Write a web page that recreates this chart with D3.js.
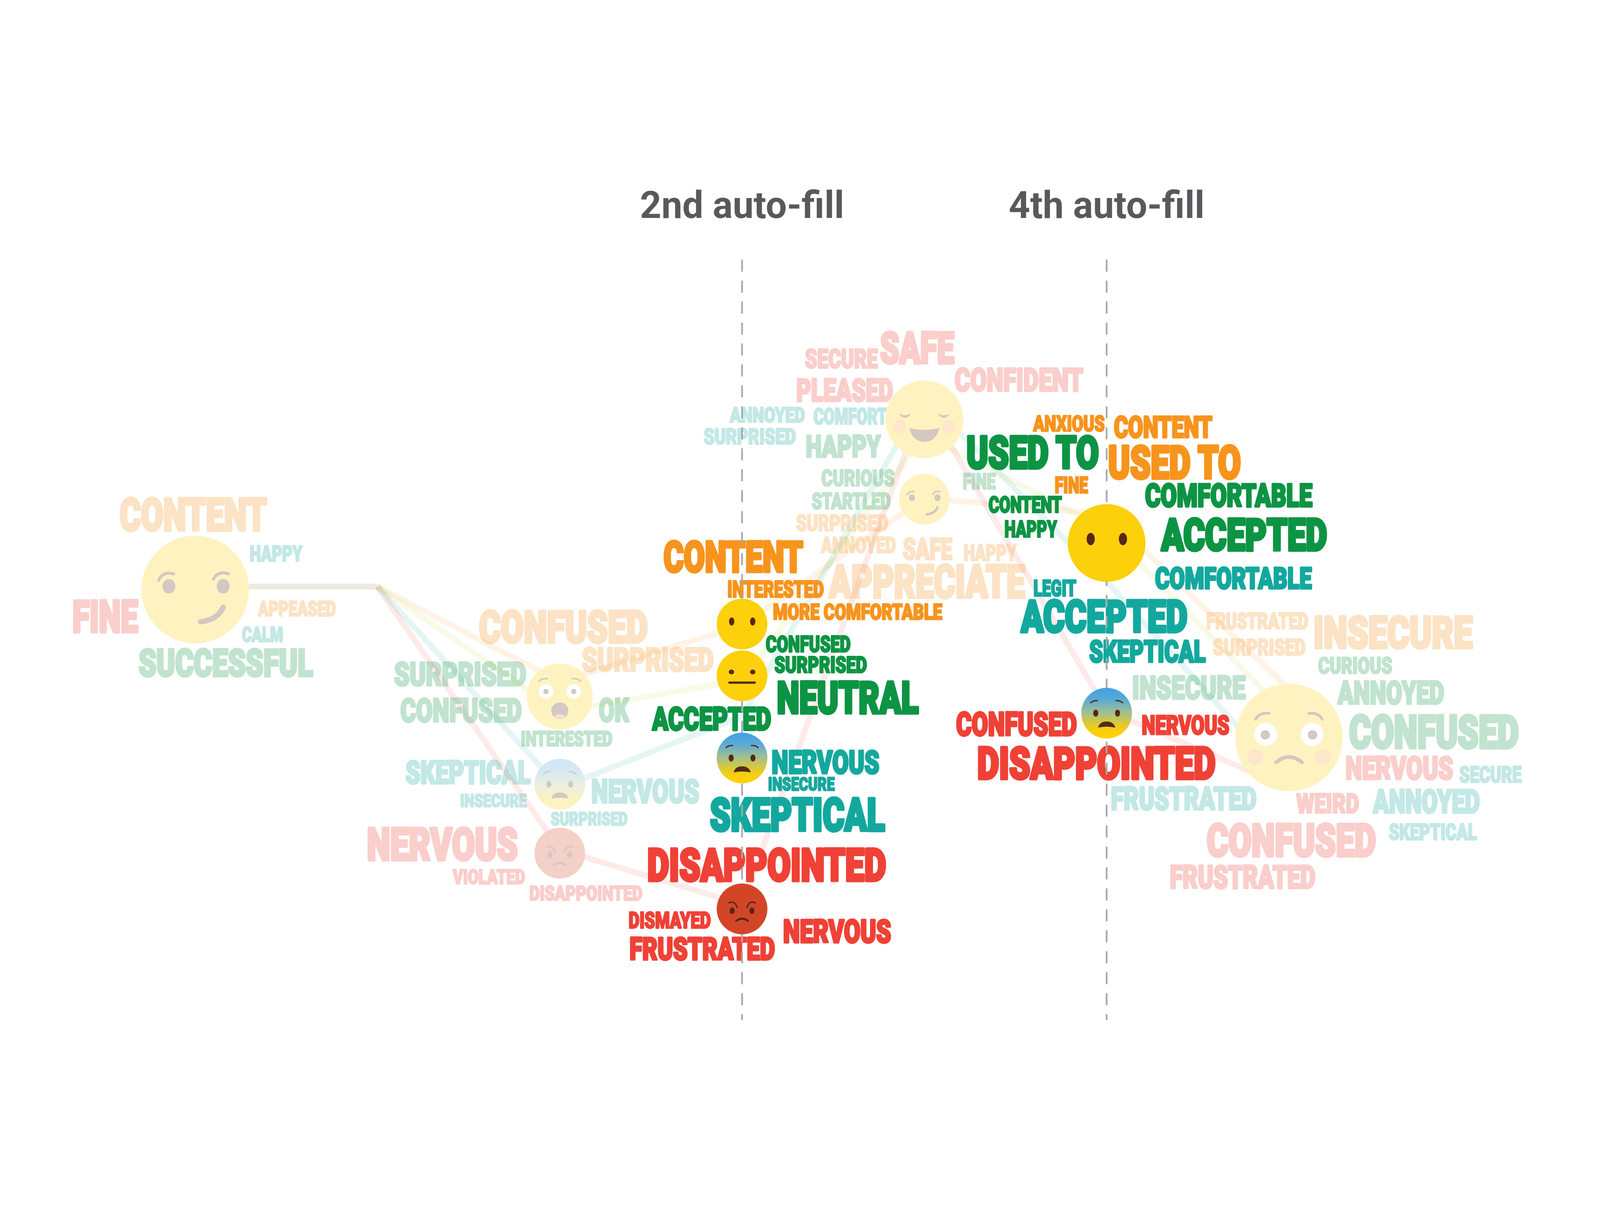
<!DOCTYPE html>
<html><head><meta charset="utf-8">
<script src="https://cdn.jsdelivr.net/npm/d3@7"></script>
<style>html,body{margin:0;padding:0;background:#fff;width:100%;height:100%;overflow:hidden;}svg{display:block;width:100vw;height:100vh;}</style>
</head><body>
<script>
// ---------------- DATA ----------------
const W = 5565, H = 3126;
const stageIndex = [0, 1, 2, 3, 4, 5, 6];
const highlightedStages = [3, 5];
const stageTitles = [{stage: 3, label: "2nd auto-fill"}, {stage: 5, label: "4th auto-fill"}];

// emotion nodes: stage, vertical position, count (face size), face type
const nodeIds    = ["n0","n1a","n1b","n1c","n2a","n2b","n2c","n2d","n3a","n3b","n4a","n4b","n5"];
const nodeStage  = [0, 2, 2, 2, 3, 3, 3, 3, 4, 4, 5, 5, 6];
const nodeY      = [1490, 1862, 2167, 2407, 1610, 1790, 2076, 2601, 898, 1176, 1328, 1920, 2005];
const nodeCount  = [9, 3.4, 2, 2, 2, 2, 2, 2, 4.7, 2, 4.7, 2, 9];
const nodeFace   = ["smirk","astonished","fearful","angry","nomouth","neutral","fearful","angry","relieved","smirk","nomouth","fearful","worried"];

// storylines: [stage, y]
const lineOrange = [[0,1480],[1,1480],[2,1810],[3,1615],[4,1172],[5,1228],[6,1836]];
const lineLime   = [[0,1480],[1,1480],[2,1915],[3,1805],[4,955],[5,1280],[6,1932]];
const lineTeal   = [[0,1480],[1,1480],[2,2180],[3,1931],[4,820],[5,1462],[6,2164]];
const lineRed    = [[0,1480],[1,1480],[2,2395],[3,2585],[4,832],[5,1910],[6,2180]];

// words: [node, text, colour group, size]
const words = [
 ["n0","CONTENT","O",121],["n0","HAPPY","T",59],["n0","FINE","R",119],["n0","APPEASED","O",56],["n0","CALM","T",56],["n0","SUCCESSFUL","G",102],
 ["n1a","CONFUSED","O",119],["n1a","SURPRISED","O",88],["n1a","SURPRISED","G",88],["n1a","CONFUSED","G",88],["n1a","OK","G",88],["n1a","INTERESTED","G",56],
 ["n1b","SKEPTICAL","T",87],["n1b","INSECURE","T",49],["n1b","NERVOUS","T",88],["n1b","SURPRISED","T",50],
 ["n1c","NERVOUS","R",121],["n1c","VIOLATED","R",55],["n1c","DISAPPOINTED","R",55],
 ["n2a","CONTENT","O",115],["n2a","INTERESTED","O",63],["n2a","MORE COMFORTABLE","O",58],
 ["n2b","CONFUSED","G",61],["n2b","SURPRISED","G",60],["n2b","NEUTRAL","G",119],["n2b","ACCEPTED","G",87],
 ["n2c","NERVOUS","T",87],["n2c","INSECURE","T",50],["n2c","SKEPTICAL","T",123],
 ["n2d","DISAPPOINTED","R",122],["n2d","DISMAYED","R",60],["n2d","FRUSTRATED","R",85],["n2d","NERVOUS","R",87],
 ["n3a","SECURE","R",70],["n3a","SAFE","R",118],["n3a","CONFIDENT","R",86],["n3a","PLEASED","R",85],["n3a","ANNOYED","T",57],["n3a","COMFORT","T",61],["n3a","SURPRISED","T",59],["n3a","HAPPY","G",83],
 ["n3b","CURIOUS","G",60],["n3b","STARTLED","G",61],["n3b","FINE","G",59],["n3b","SURPRISED","O",60],["n3b","ANNOYED","O",58],["n3b","SAFE","O",80],["n3b","HAPPY","O",60],["n3b","APPRECIATE","O",123],
 ["n4a","ANXIOUS","O",58],["n4a","CONTENT","O",80],["n4a","USED TO","G",122],["n4a","USED TO","O",123],["n4a","FINE","O",60],["n4a","CONTENT","G",61],["n4a","HAPPY","G",63],["n4a","COMFORTABLE","G",87],["n4a","ACCEPTED","G",120],["n4a","COMFORTABLE","T",80],["n4a","LEGIT","T",60],["n4a","ACCEPTED","T",119],["n4a","SKEPTICAL","T",82],
 ["n4b","CONFUSED","R",88],["n4b","NERVOUS","R",71],["n4b","DISAPPOINTED","R",119],
 ["n5","FRUSTRATED","O",60],["n5","SURPRISED","O",60],["n5","INSECURE","O",120],["n5","CURIOUS","G",61],["n5","ANNOYED","G",86],["n5","INSECURE","G",86],["n5","CONFUSED","G",124],["n5","NERVOUS","R",86],["n5","SECURE","T",60],["n5","FRUSTRATED","T",87],["n5","WEIRD","R",72],["n5","ANNOYED","T",88],["n5","CONFUSED","R",121],["n5","SKEPTICAL","T",61],["n5","FRUSTRATED","R",86]
];
// word-cloud layout (offset of word box from its node centre, box width), same order as words
const wordLayout = [
 [-268,-322,522],[187,-155,188],[-432,34,238],[216,39,276],[160,128,148],[-201,204,615],
 [-286,-302,597],[73,-173,466],[-580,-122,467],[-558,4,430],[132,2,112],[-138,119,323],
 [-540,-86,442],[-349,33,236],[106,-20,383],[-34,96,272],
 [-676,-91,535],[-374,54,256],[-108,112,398],
 [-278,-291,495],[-54,-153,341],[105,-71,594],
 [80,-142,300],[110,-69,327],[116,16,503],[-316,106,421],
 [99,-30,382],[88,65,236],[-117,135,619],
 [-335,-215,841],[-397,9,291],[-395,95,513],[139,34,383],
 [-418,-246,259],[-159,-308,268],[102,-181,454],[-449,-145,344],[-679,-45,266],[-388,-42,261],[-770,30,326],[-416,52,268],
 [-361,-104,260],[-394,-25,280],[131,-92,119],[-449,52,326],[-362,131,266],[-78,133,178],[134,156,189],[-337,225,692],
 [-258,-444,254],[22,-444,349],[-493,-377,471],[0,-342,472],[-183,-232,121],[-413,-164,260],[-358,-81,188],[130,-210,589],[185,-89,587],[165,82,552],[-257,127,154],[-303,196,589],[-64,336,412],
 [-527,-6,427],[119,6,311],[-455,115,839],
 [-290,-435,360],[-267,-344,328],[80,-426,564],[99,-282,263],[166,-200,378],[-549,-217,402],[204,-82,601],[193,63,382],[590,98,222],[-623,167,514],[23,193,224],[289,177,379],[-291,297,599],[345,297,311],[-418,441,514]
];

// ---------------- STYLE ----------------
const wordColor = {O:"#f7941d", G:"#0c9444", T:"#13a89e", R:"#ef4136"};
const lineColor = {O:"#f7941d", L:"#bfd630", T:"#13a89e", R:"#ef4136"};
const bundleColor = "#8f9a5a";
const YEL = "#fcd00a", BRN = "#552816", ANG = "#d24627", BLUSH = "#f8a03a", TONGUE = "#ee6f84";
const FADE = 0.25;

// ---------------- SCALES ----------------
const x = d3.scaleLinear().domain([0, 6]).range([679, 4483]);
const y = d3.scaleLinear().domain([0, H]).range([0, H]);
const r = d3.scaleSqrt().domain([0, 9]).range([0, 187]);

const svg = d3.select("body").append("svg")
  .attr("viewBox", `0 0 ${W} ${H}`)
  .attr("preserveAspectRatio", "xMidYMid meet");
svg.append("rect").attr("width", W).attr("height", H).attr("fill", "#fff");

const defs = svg.append("defs");
const fg = defs.append("linearGradient").attr("id", "fearGrad").attr("x1", 0).attr("y1", 0).attr("x2", 0).attr("y2", 1);
[[0,"#42a1e4"],[0.22,"#58a9d8"],[0.48,"#9fc092"],[0.7,"#dcc838"],[0.86,"#fbcf0b"],[1,"#fdd006"]]
  .forEach(([o,c]) => fg.append("stop").attr("offset", o).attr("stop-color", c));

const nodes = nodeIds.map((id, i) => ({id, stage: nodeStage[i], y: nodeY[i], count: nodeCount[i], face: nodeFace[i]}));
const nodeById = new Map(nodes.map(n => [n.id, n]));

// ---------------- STORYLINES ----------------
const lineGen = d3.line().x(d => x(d[0])).y(d => y(d[1]));
const storylines = [["O", lineOrange], ["L", lineLime], ["T", lineTeal], ["R", lineRed]];
const lg = svg.append("g");
// shared first segment (all storylines start together)
lg.append("path")
  .attr("d", lineGen(lineOrange.slice(0, 2)))
  .attr("fill", "none").attr("stroke", bundleColor).attr("stroke-opacity", 0.19)
  .attr("stroke-width", 20);
lg.selectAll("path.story").data(storylines).join("path").attr("class", "story")
  .attr("d", d => lineGen(d[1].slice(1)))
  .attr("fill", "none")
  .attr("stroke", d => lineColor[d[0]])
  .attr("stroke-opacity", 0.11)
  .attr("stroke-width", 20)
  .attr("stroke-linejoin", "miter");

// ---------------- FACES ----------------
function drawFace(g, type) {
  const fill = type === "angry" ? ANG : type === "fearful" ? "url(#fearGrad)" : YEL;
  g.append("circle").attr("r", 1).attr("fill", fill);
  const st = (d, w) => g.append("path").attr("d", d).attr("fill", "none").attr("stroke", BRN)
      .attr("stroke-width", w).attr("stroke-linecap", "round").attr("stroke-linejoin", "round");
  const fp = (d, c) => g.append("path").attr("d", d).attr("fill", c || BRN);
  const el = (cx, cy, rx, ry, c) => g.append("ellipse").attr("cx", cx).attr("cy", cy).attr("rx", rx).attr("ry", ry).attr("fill", c || BRN);
  if (type === "smirk") {
    el(-0.49, -0.06, 0.12, 0.135); el(0.52, -0.06, 0.12, 0.135);
    st("M-0.68,-0.17Q-0.6,-0.35 -0.40,-0.29", 0.055);
    st("M0.34,-0.19Q0.42,-0.36 0.62,-0.29", 0.055);
    st("M0.1,0.6Q0.42,0.56 0.52,0.33", 0.1);
  } else if (type === "astonished") {
    st("M-0.63,-0.46Q-0.52,-0.57 -0.37,-0.53", 0.045);
    st("M0.63,-0.46Q0.52,-0.57 0.37,-0.53", 0.045);
    el(-0.42, -0.15, 0.22, 0.22, "#fff"); el(0.42, -0.15, 0.22, 0.22, "#fff");
    el(-0.42, -0.15, 0.08, 0.08); el(0.42, -0.15, 0.08, 0.08);
    el(0, 0.43, 0.26, 0.25);
    el(0, 0.6, 0.16, 0.065, TONGUE);
  } else if (type === "fearful") {
    st("M-0.63,-0.41Q-0.52,-0.51 -0.37,-0.49", 0.05);
    st("M0.63,-0.41Q0.52,-0.51 0.37,-0.49", 0.05);
    el(-0.43, 0, 0.1, 0.14); el(0.43, 0, 0.1, 0.14);
    fp("M-0.33,0.57Q-0.28,0.33 0,0.33Q0.28,0.33 0.34,0.57Q0,0.49 -0.33,0.57Z");
  } else if (type === "angry") {
    st("M-0.52,-0.24Q-0.3,-0.35 -0.19,-0.06", 0.055);
    st("M0.52,-0.24Q0.3,-0.35 0.19,-0.06", 0.055);
    el(-0.39, 0.07, 0.1, 0.13); el(0.39, 0.07, 0.1, 0.13);
    st("M-0.23,0.47Q0,0.3 0.23,0.47", 0.08);
  } else if (type === "nomouth") {
    el(-0.41, -0.1, 0.105, 0.16); el(0.42, -0.1, 0.105, 0.16);
  } else if (type === "neutral") {
    el(-0.42, -0.15, 0.105, 0.095); el(0.42, -0.15, 0.105, 0.095);
    st("M-0.5,0.27H0.5", 0.09);
  } else if (type === "relieved") {
    el(-0.63, 0.19, 0.17, 0.17, BLUSH); el(0.63, 0.19, 0.17, 0.17, BLUSH);
    fp("M-0.66,-0.15Q-0.5,0.08 -0.34,-0.15Q-0.5,-0.06 -0.66,-0.15Z");
    fp("M0.66,-0.15Q0.5,0.08 0.34,-0.15Q0.5,-0.06 0.66,-0.15Z");
    fp("M-0.39,0.22Q0,0.32 0.39,0.22Q0.3,0.58 0,0.58Q-0.3,0.58 -0.39,0.22Z");
  } else if (type === "worried") {
    el(-0.63, 0.36, 0.15, 0.15, BLUSH); el(0.63, 0.36, 0.15, 0.15, BLUSH);
    st("M-0.62,-0.34Q-0.55,-0.47 -0.37,-0.45", 0.05);
    st("M0.62,-0.34Q0.55,-0.47 0.37,-0.45", 0.05);
    el(-0.43, -0.06, 0.215, 0.215, "#fff"); el(0.43, -0.06, 0.215, 0.215, "#fff");
    el(-0.44, -0.05, 0.087, 0.087); el(0.44, -0.05, 0.087, 0.087);
    st("M-0.24,0.46Q0,0.26 0.24,0.46", 0.07);
  }
}

// ---------------- WORDS + FACES PER STAGE ----------------
const wordItems = words.map((w, i) => {
  const n = nodeById.get(w[0]);
  const [dx, dy, bw] = wordLayout[i];
  return {stage: n.stage, text: w[1], color: wordColor[w[2]], h: w[3],
          left: x(n.stage) + dx, top: y(n.y) + dy, w: bw};
});

const order = stageIndex.slice().sort((a, b) => (highlightedStages.includes(a) ? 1 : 0) - (highlightedStages.includes(b) ? 1 : 0));

order.forEach(s => {
  const hl = highlightedStages.includes(s);
  const g = svg.append("g").attr("opacity", hl ? 1 : FADE);
  const items = wordItems.filter(d => d.stage === s);
  g.append("g").selectAll("text").data(items).join("text")
    .each(function(d) {
      const sw = 0.085 * d.h;
      const fs = (d.h - sw) / 0.711;
      d3.select(this)
        .attr("x", d.left + sw / 2)
        .attr("y", d.top + d.h - sw / 2)
        .attr("font-size", fs)
        .attr("textLength", d.w - sw)
        .attr("lengthAdjust", "spacingAndGlyphs");
      d.sw = sw;
    })
    .attr("font-family", "Roboto, 'DejaVu Sans', sans-serif")
    .attr("font-weight", 900)
    .attr("fill", d => d.color)
    .attr("stroke", d => d.color)
    .attr("stroke-width", d => d.sw)
    .attr("stroke-linejoin", "round")
    .text(d => d.text);

  if (hl) {
    g.append("line")
      .attr("x1", x(s)).attr("x2", x(s))
      .attr("y1", 345).attr("y2", 2985)
      .attr("stroke", "#a7a9ac").attr("stroke-width", 6)
      .attr("stroke-dasharray", "37 35.9").attr("stroke-linecap", "round");
  }

  nodes.filter(n => n.stage === s).forEach(n => {
    const tr = `translate(${x(n.stage)},${y(n.y)}) scale(${r(n.count)})`;
    if (!hl) {
      // opaque backing so faded faces hide the storylines beneath them
      svg.append("circle").attr("transform", tr).attr("r", 1).attr("fill", "#fff");
    }
    const fgr = svg.append("g").attr("transform", tr).attr("opacity", hl ? 1 : FADE);
    drawFace(fgr, n.face);
  });
});

// ---------------- TITLES ----------------
svg.append("g").selectAll("text").data(stageTitles).join("text")
  .attr("x", d => x(d.stage))
  .attr("y", 197)
  .attr("text-anchor", "middle")
  .attr("font-family", "Roboto, 'DejaVu Sans', sans-serif")
  .attr("font-weight", 700)
  .attr("font-size", 130)
  .attr("fill", "#58595b")
  .text(d => d.label);
</script>
</body></html>
